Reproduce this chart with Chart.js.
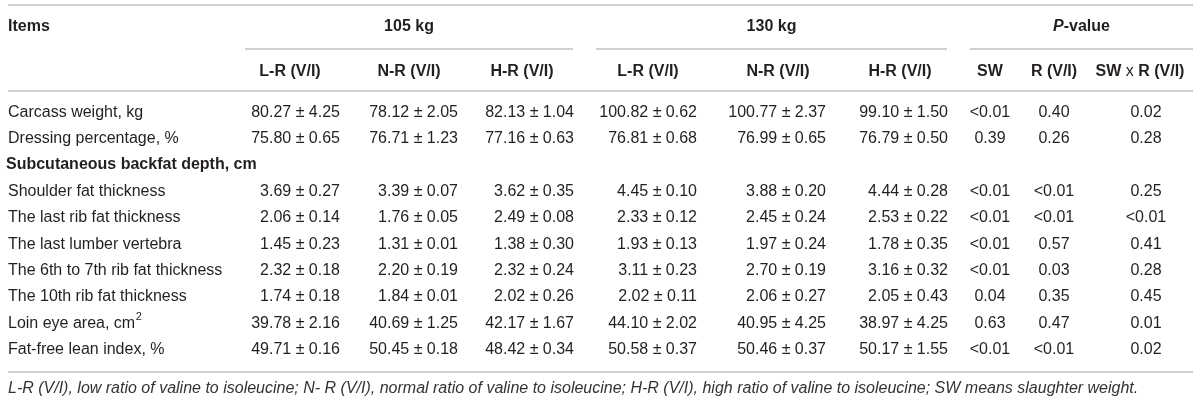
<!DOCTYPE html>
<html>
<head>
<meta charset="utf-8">
<script src="https://cdn.jsdelivr.net/npm/chart.js@4"></script>
<style>
  html, body { margin: 0; padding: 0; background: #fff; }
  #wrap { width: 1200px; height: 402px; position: relative; }
</style>
</head>
<body>
<div id="wrap"><canvas id="tbl"></canvas></div>
<script>
// table rows (item names)
const items = [
  'Carcass weight, kg',
  'Dressing percentage, %',
  'Subcutaneous backfat depth, cm',
  'Shoulder fat thickness',
  'The last rib fat thickness',
  'The last lumber vertebra',
  'The 6th to 7th rib fat thickness',
  'The 10th rib fat thickness',
  'Loin eye area, cm2',
  'Fat-free lean index, %'
];
const sectionRows = [2];

const groupLabels = ['105 kg', '130 kg', 'P-value'];
const columnLabels = ['L-R (V/I)', 'N-R (V/I)', 'H-R (V/I)', 'L-R (V/I)', 'N-R (V/I)', 'H-R (V/I)', 'SW', 'R (V/I)', 'SW x R (V/I)'];

// 105 kg  (mean, SD)
const lr105Mean = [80.27, 75.80, null, 3.69, 2.06, 1.45, 2.32, 1.74, 39.78, 49.71];
const lr105Sd   = [4.25, 0.65, null, 0.27, 0.14, 0.23, 0.18, 0.18, 2.16, 0.16];
const nr105Mean = [78.12, 76.71, null, 3.39, 1.76, 1.31, 2.20, 1.84, 40.69, 50.45];
const nr105Sd   = [2.05, 1.23, null, 0.07, 0.05, 0.01, 0.19, 0.01, 1.25, 0.18];
const hr105Mean = [82.13, 77.16, null, 3.62, 2.49, 1.38, 2.32, 2.02, 42.17, 48.42];
const hr105Sd   = [1.04, 0.63, null, 0.35, 0.08, 0.30, 0.24, 0.26, 1.67, 0.34];
// 130 kg
const lr130Mean = [100.82, 76.81, null, 4.45, 2.33, 1.93, 3.11, 2.02, 44.10, 50.58];
const lr130Sd   = [0.62, 0.68, null, 0.10, 0.12, 0.13, 0.23, 0.11, 2.02, 0.37];
const nr130Mean = [100.77, 76.99, null, 3.88, 2.45, 1.97, 2.70, 2.06, 40.95, 50.46];
const nr130Sd   = [2.37, 0.65, null, 0.20, 0.24, 0.24, 0.19, 0.27, 4.25, 0.37];
const hr130Mean = [99.10, 76.79, null, 4.44, 2.53, 1.78, 3.16, 2.05, 38.97, 50.17];
const hr130Sd   = [1.50, 0.50, null, 0.28, 0.22, 0.35, 0.32, 0.43, 4.25, 1.55];
// P-values
const pSW  = ['<0.01', '0.39', null, '<0.01', '<0.01', '<0.01', '<0.01', '0.04', '0.63', '<0.01'];
const pR   = ['0.40', '0.26', null, '<0.01', '<0.01', '0.57', '0.03', '0.35', '0.47', '<0.01'];
const pSWR = ['0.02', '0.28', null, '0.25', '<0.01', '0.41', '0.28', '0.45', '0.01', '0.02'];

const footnote = 'L-R (V/I), low ratio of valine to isoleucine; N- R (V/I), normal ratio of valine to isoleucine; H-R (V/I), high ratio of valine to isoleucine; SW means slaughter weight.';

// 表のレイアウト (x は 0..1200 の線形スケール上の値)
const layout = {
  left: 8, right: 1193,
  groupSpans: [[245, 573], [596, 947], [970, 1193]],
  headX: [290, 409, 522, 648, 778, 900, 990, 1054, 1140],
  cellX: [340, 458, 574, 697, 826, 948, 990, 1054, 1146],
  cellAlign: ['right', 'right', 'right', 'right', 'right', 'right', 'center', 'center', 'center'],
  topLine: 5, groupY: 27, groupLine: 49, headY: 72, headLine: 91, bottomLine: 372, footY: 389
};

const fmt = (m, s) => m == null ? null : m.toFixed(2) + ' \u00b1 ' + s.toFixed(2);
const columns = [
  lr105Mean.map((m, i) => fmt(m, lr105Sd[i])),
  nr105Mean.map((m, i) => fmt(m, nr105Sd[i])),
  hr105Mean.map((m, i) => fmt(m, hr105Sd[i])),
  lr130Mean.map((m, i) => fmt(m, lr130Sd[i])),
  nr130Mean.map((m, i) => fmt(m, nr130Sd[i])),
  hr130Mean.map((m, i) => fmt(m, hr130Sd[i])),
  pSW, pR, pSWR
];

const ink = '#231f20';
const rule = '#cfcfcf';
const family = '"Liberation Sans", Arial, Helvetica, sans-serif';
const bold = 'bold 16px ' + family;
const regular = '16px ' + family;

// 複数フォントの文字列を中央揃えで描く
function drawRuns(ctx, runs, cx, y) {
  let total = 0;
  runs.forEach(r => { ctx.font = r[1]; total += ctx.measureText(r[0]).width; });
  let x = cx - total / 2;
  ctx.textAlign = 'left';
  runs.forEach(r => {
    ctx.font = r[1];
    ctx.fillText(r[0], x, y);
    x += ctx.measureText(r[0]).width;
  });
  ctx.textAlign = 'center';
}

const tablePlugin = {
  id: 'tableText',
  afterDraw(chart) {
    const { ctx, scales } = chart;
    const xs = v => scales.x.getPixelForValue(v);
    ctx.save();
    ctx.textBaseline = 'middle';

    // 罫線
    const hline = (x1, x2, y) => {
      ctx.beginPath();
      ctx.strokeStyle = rule;
      ctx.lineWidth = 2;
      ctx.moveTo(xs(x1), y);
      ctx.lineTo(xs(x2), y);
      ctx.stroke();
    };
    hline(layout.left, layout.right, layout.topLine);
    layout.groupSpans.forEach(s => hline(s[0], s[1], layout.groupLine));
    hline(layout.left, layout.right, layout.headLine);
    hline(layout.left, layout.right, layout.bottomLine);

    // ヘッダー
    ctx.fillStyle = ink;
    ctx.font = bold;
    ctx.textAlign = 'left';
    ctx.fillText('Items', xs(layout.left), layout.groupY);
    ctx.textAlign = 'center';
    groupLabels.forEach((g, i) => {
      const cx = xs((layout.groupSpans[i][0] + layout.groupSpans[i][1]) / 2);
      if (g === 'P-value') {
        drawRuns(ctx, [['P', 'bold italic 16px ' + family], ['-value', bold]], cx, layout.groupY);
      } else {
        ctx.font = bold;
        ctx.fillText(g, cx, layout.groupY);
      }
    });
    columnLabels.forEach((c, i) => {
      const cx = xs(layout.headX[i]);
      if (c.includes(' x ')) {
        const parts = c.split(' x ');
        drawRuns(ctx, [[parts[0] + ' ', bold], ['x', regular], [' ' + parts[1], bold]], cx, layout.headY);
      } else {
        ctx.font = bold;
        ctx.fillText(c, cx, layout.headY);
      }
    });

    // 本体
    items.forEach((name, r) => {
      const y = scales.y.getPixelForValue(r);
      ctx.textAlign = 'left';
      if (sectionRows.includes(r)) {
        ctx.font = bold;
        ctx.fillText(name, xs(layout.left - 2), y);
        return;
      }
      ctx.font = regular;
      if (name.endsWith('cm2')) {
        const base = name.slice(0, -1);
        ctx.fillText(base, xs(layout.left), y);
        const w = ctx.measureText(base).width;
        ctx.font = '11px ' + family;
        ctx.fillText('2', xs(layout.left) + w + 0.5, y - 6);
        ctx.font = regular;
      } else {
        ctx.fillText(name, xs(layout.left), y);
      }
      columns.forEach((col, c) => {
        if (col[r] == null) return;
        ctx.textAlign = layout.cellAlign[c];
        ctx.fillText(col[r], xs(layout.cellX[c]), y);
      });
    });

    // 注釈
    ctx.font = 'italic 16px ' + family;
    ctx.textAlign = 'left';
    ctx.fillStyle = '#333';
    ctx.fillText(footnote, xs(layout.left), layout.footY);
    ctx.restore();
  }
};

new Chart(document.getElementById('tbl'), {
  type: 'scatter',
  data: {
    labels: items,
    datasets: [{ data: [], pointRadius: 0 }]
  },
  options: {
    responsive: true,
    maintainAspectRatio: false,
    animation: false,
    layout: { padding: { top: 99, bottom: 39, left: 0, right: 0 } },
    plugins: { legend: { display: false }, tooltip: { enabled: false } },
    scales: {
      x: { type: 'linear', min: 0, max: 1200, display: false },
      y: { type: 'category', labels: items, offset: true, display: false }
    }
  },
  plugins: [tablePlugin]
});
</script>
</body>
</html>
